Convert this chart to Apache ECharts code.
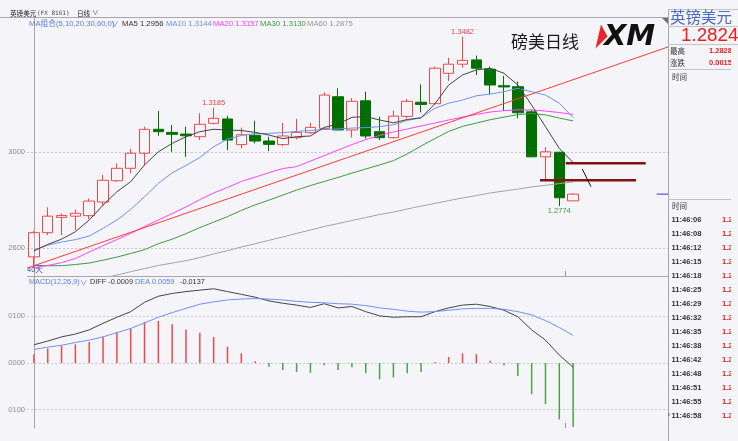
<!DOCTYPE html>
<html><head><meta charset="utf-8">
<script src="https://cdn.jsdelivr.net/npm/echarts@6/dist/echarts.min.js"></script>
<style>html,body{margin:0;padding:0;background:#f5f5f9;}#c{width:738px;height:441px;}</style>
</head><body><div id="c"></div>
<script>
// ---------------- data ----------------
const categories = ['1','2','3','4','5','6','7','8','9','10','11','12','13','14','15','16','17','18','19','20',
  '21','22','23','24','25','26','27','28','29','30','31','32','33','34','35','36','37','38','39','40',
  '41','42','43','44','45','46'];
// [open, close, low, high]
const candles = [
[1.2562,1.2663,1.2515,1.2670],[1.2663,1.2732,1.2653,1.2769],[1.2727,1.2735,1.2653,1.2744],[1.2732,1.2744,1.2673,1.2760],
[1.2734,1.2795,1.2719,1.2806],[1.2791,1.2882,1.2776,1.2904],[1.2880,1.2932,1.2876,1.2953],[1.2932,1.2995,1.2911,1.3013],
[1.2995,1.3095,1.2946,1.3106],[1.3095,1.3085,1.3068,1.3171],[1.3082,1.3074,1.3001,1.3113],[1.3075,1.3068,1.2980,1.3106],
[1.3064,1.3116,1.3050,1.3162],[1.3120,1.3141,1.3115,1.3185],[1.3138,1.3050,1.3008,1.3151],[1.3031,1.3072,1.3015,1.3102],
[1.3070,1.3046,1.3036,1.3131],[1.3046,1.3032,1.3004,1.3064],[1.3031,1.3067,1.3025,1.3122],[1.3060,1.3082,1.3053,1.3139],
[1.3081,1.3103,1.3075,1.3122],[1.3099,1.3238,1.3095,1.3250],[1.3231,1.3092,1.3092,1.3266],[1.3092,1.3212,1.3061,1.3225],
[1.3214,1.3067,1.3056,1.3252],[1.3085,1.3060,1.3050,1.3148],[1.3060,1.3150,1.3057,1.3173],[1.3149,1.3212,1.3140,1.3222],
[1.3208,1.3199,1.3166,1.3283],[1.3202,1.3350,1.3202,1.3357],[1.3329,1.3367,1.3297,1.3394],[1.3367,1.3383,1.3352,1.3482],
[1.3385,1.3350,1.3322,1.3403],[1.3346,1.3280,1.3241,1.3357],[1.3277,1.3272,1.3171,1.3318],[1.3273,1.3164,1.3141,1.3294],
[1.3168,1.2980,1.2980,1.3176],[1.2980,1.3001,1.2883,1.3020],[1.2999,1.2809,1.2774,1.3001],[1.2796,1.2824,1.2796,1.2828]
];
const ma5 = [1.2587,1.2614,1.2636,1.2667,1.2716,1.2778,1.2834,1.2876,1.2946,1.3001,1.3036,1.3064,1.3085,1.3095,1.3092,1.3090,1.3082,1.3071,1.3056,1.3064,
  1.3067,1.3103,1.3117,1.3145,1.3148,1.3134,1.3122,1.3136,1.3143,1.3201,1.3280,1.3322,1.3343,1.3350,1.3329,1.3280,1.3196,1.3106,1.3015,1.2956];
const ma10 = [1.2590,1.2611,1.2624,1.2634,1.2649,1.2681,1.2716,1.2760,1.2813,1.2869,1.2913,1.2944,1.2977,1.3022,1.3054,1.3069,1.3077,1.3078,1.3081,1.3086,
  1.3090,1.3094,1.3096,1.3100,1.3102,1.3106,1.3114,1.3132,1.3143,1.3183,1.3204,1.3217,1.3235,1.3242,1.3252,1.3266,1.3252,1.3238,1.3204,1.3144];
const ma20 = [1.2515,1.2526,1.2538,1.2555,1.2582,1.2609,1.2634,1.2660,1.2689,1.2716,1.2743,1.2771,1.2801,1.2829,1.2852,1.2877,1.2895,1.2914,1.2931,1.2939,
  1.2962,1.2985,1.3008,1.3031,1.3052,1.3069,1.3084,1.3096,1.3109,1.3121,1.3134,1.3146,1.3157,1.3167,1.3173,1.3176,1.3176,1.3171,1.3165,1.3157];
const ma30 = [1.2525,1.2525,1.2525,1.2530,1.2536,1.2548,1.2561,1.2576,1.2592,1.2617,1.2636,1.2659,1.2684,1.2707,1.2730,1.2756,1.2779,1.2799,1.2820,1.2841,
  1.2860,1.2877,1.2894,1.2912,1.2929,1.2946,1.2964,1.2992,1.3025,1.3056,1.3086,1.3107,1.3121,1.3135,1.3146,1.3156,1.3161,1.3155,1.3142,1.3130];
const ma60 = ['-','-','-','-',1.2461,1.2473,1.2486,1.2500,1.2513,1.2526,1.2536,1.2546,1.2559,1.2574,1.2588,1.2603,1.2617,1.2631,1.2645,1.2660,
  1.2674,1.2689,1.2701,1.2714,1.2726,1.2739,1.2749,1.2762,1.2774,1.2785,1.2797,1.2808,1.2818,1.2829,1.2837,1.2845,1.2854,1.2861,1.2868,1.2875];
const diff = [0.0039,0.0047,0.0056,0.0062,0.0071,0.0085,0.0098,0.0110,0.0130,0.0143,0.0149,0.0153,0.0156,0.0159,0.0153,0.0147,0.0141,0.0133,0.0128,0.0124,
  0.0119,0.0127,0.0118,0.0121,0.0110,0.0101,0.0098,0.0099,0.0099,0.0110,0.0118,0.0124,0.0126,0.0121,0.0113,0.0099,0.0071,0.0049,0.0017,-0.0009];
const dea = [0.0029,0.0034,0.0038,0.0044,0.0049,0.0056,0.0065,0.0074,0.0086,0.0098,0.0108,0.0117,0.0126,0.0131,0.0135,0.0137,0.0138,0.0137,0.0135,0.0132,
  0.0130,0.0129,0.0127,0.0126,0.0123,0.0118,0.0115,0.0111,0.0109,0.0110,0.0113,0.0116,0.0117,0.0117,0.0115,0.0110,0.0103,0.0091,0.0076,0.0059];
const macd = [0.0019,0.0031,0.0037,0.0040,0.0045,0.0056,0.0066,0.0074,0.0088,0.0090,0.0083,0.0072,0.0065,0.0056,0.0035,0.0021,0.0004,-0.0008,-0.0015,-0.0019,
  -0.0021,-0.0005,-0.0015,-0.0009,-0.0022,-0.0035,-0.0031,-0.0022,-0.0019,0.0002,0.0013,0.0021,0.0019,0.0005,-0.0005,-0.0028,-0.0067,-0.0088,-0.0121,-0.0137];
const priceTicks = [1.26, 1.30];
const macdTicks = [-0.01, 0, 0.01];
// drawn annotations: [x index, price]
const trendLine = [[-0.5, 1.2515], [45.86, 1.3439]];
const levelA = [[38.46, 1.2953], [44.25, 1.2953]];
const levelB = [[36.60, 1.2882], [43.55, 1.2882]];
const arrowLine = [[39.66, 1.2929], [40.29, 1.2855]];
const lastPriceMark = [[45.04, 1.2824], [45.86, 1.2824]];
const tickTimes = ['11:46:06','11:46:08','11:46:12','11:46:15','11:46:18','11:46:25','11:46:29','11:46:32','11:46:35','11:46:38','11:46:42','11:46:48','11:46:51','11:46:55','11:46:58'];

// -------------- chart ----------------
const PMIN = 1.2482, PMAX = 1.3560, MMIN = -0.01392, MMAX = 0.01842;
const N = categories.length;
const pad = a => a.concat(new Array(N - a.length).fill('-'));
const last = a => a[a.length - 1];
const LF = "'Liberation Sans','Noto Sans CJK SC'";
const CJK = "'Noto Sans CJK SC'";

function txt(x, y, text, o) {
  return {type:'text', x:x, y:y, z:100, silent:true,
    style:Object.assign({text:text, fill:'#333', fontSize:7.7, fontFamily:LF,
      align:'left', verticalAlign:'middle', textAlign:'left', textVerticalAlign:'middle'}, o || {})};
}
function ln(x1, y1, x2, y2, c, w) {
  return {type:'line', z:90, silent:true, shape:{x1:x1,y1:y1,x2:x2,y2:y2}, style:{stroke:c || '#a6a6ae', lineWidth:w || 1}};
}

const graphics = [
  // frame lines
  ln(0, 17.5, 668, 17.5), ln(27, 276.5, 668, 276.5), ln(668.5, 9, 668.5, 441),
  ln(668, 9.5, 738, 9.5, '#c4c4cc'), ln(668, 26.5, 738, 26.5, '#c4c4cc'), ln(668, 44.5, 738, 44.5, '#c4c4cc'),
  ln(668, 69.5, 738, 69.5, '#c4c4cc'), ln(668, 199.5, 738, 199.5, '#c4c4cc'),
  ln(565.5, 271, 565.5, 276, '#909098'), ln(565.5, 423, 565.5, 428, '#909098'),
  {type:'polygon', z:95, silent:true, shape:{points:[[662,18],[668,18],[668,24]]}, style:{fill:'#707078'}},
  // header
  txt(10, 13, '英镑美元', {fontFamily:CJK, fontSize:6.6, fill:'#222'}),
  txt(37, 13, '(FX 8161)', {fontFamily:"'DejaVu Sans Mono'", fontSize:6, fill:'#444'}),
  txt(77, 13, '日线', {fontFamily:CJK, fontSize:6.6, fill:'#222'}),
  txt(92, 13, '∨', {fontSize:6.5, fill:'#333'}),
  // MA legend
  txt(29, 24, 'MA组合(5,10,20,30,60,0)', {fill:'#5b7fe0'}),
  txt(111, 24.5, '∨', {fill:'#5b7fe0'}),
  txt(122, 24, 'MA5 ' + last(ma5).toFixed(4), {fill:'#333'}),
  txt(166, 24, 'MA10 ' + last(ma10).toFixed(4), {fill:'#6a8ef0'}),
  txt(213, 24, 'MA20 ' + last(ma20).toFixed(4), {fill:'#ff3cff'}),
  txt(260, 24, 'MA30 ' + last(ma30).toFixed(4), {fill:'#3c9a3c'}),
  txt(307, 24, 'MA60 ' + last(ma60).toFixed(4), {fill:'#999'}),
  // day count
  txt(27, 270, candles.length + '天', {fill:'#4a4ab8', fontSize:7.5}),
  // MACD legend
  txt(29, 282, 'MACD(12,26,9)', {fill:'#5b7fe0', fontSize:7.3}),
  txt(80, 282.5, '∨', {fill:'#5b7fe0', fontSize:7.3}),
  txt(90, 282, 'DIFF ' + last(diff).toFixed(4), {fill:'#333', fontSize:7.3}),
  txt(135, 282, 'DEA ' + last(dea).toFixed(4), {fill:'#5b7fe0', fontSize:7.3}),
  txt(180, 282, last(macd).toFixed(4), {fill:'#333', fontSize:7.3}),
  // title + logo
  txt(511, 42, '磅美日线', {fontFamily:CJK, fontSize:17, fill:'#1a1a1a'}),
  {type:'polygon', z:100, silent:true, shape:{points:[[601,24.5],[607.5,36.5],[595.5,48.5]]}, style:{fill:'#e8262a'}},
  txt(604, 37, 'XM', {fontSize:29, fontWeight:'bold', fontStyle:'italic', fill:'#111', fontFamily:"'DejaVu Sans'"}),
  // right panel
  txt(670, 17.5, '英镑美元', {fontFamily:CJK, fontSize:15.5, fill:'#4a6ac4'}),
  txt(681, 36, last(candles)[1].toFixed(4), {fontSize:18.8, fill:'#f01c1c'}),
  txt(670, 51, '最高', {fontFamily:CJK, fontSize:7.5, fill:'#333'}),
  txt(709, 51, last(candles)[3].toFixed(4), {fontSize:7.5, fontWeight:'bold', fill:'#f01c1c'}),
  txt(670, 63, '涨跌', {fontFamily:CJK, fontSize:7.5, fill:'#333'}),
  txt(709, 63, (last(candles)[1] - candles[candles.length - 2][1]).toFixed(4), {fontSize:7.5, fontWeight:'bold', fill:'#f01c1c'}),
  txt(672, 77, '时间', {fontFamily:CJK, fontSize:7.5, fill:'#333'}),
  txt(672, 206, '时间', {fontFamily:CJK, fontSize:7.5, fill:'#333'}),
  txt(667.5, 414.5, '›', {fontSize:8, fill:'#3050c0'})
];
tickTimes.forEach((t, i) => {
  graphics.push(txt(671.5, 220 + i * 14, t, {fontSize:7.6, fontWeight:'bold', fill:'#333'}));
  graphics.push(txt(722, 220 + i * 14, last(candles)[1].toFixed(4), {fontSize:7.6, fontWeight:'bold', fill:'#f01c1c'}));
});
// column clip at right
graphics.push({type:'rect', z:120, silent:true, shape:{x:731, y:45, width:7, height:396}, style:{fill:'#f5f5f9'}});

const lineS = (name, data, color, z) => ({name:name, type:'line', xAxisIndex:0, yAxisIndex:0, data:pad(data), symbol:'none', silent:true,
  lineStyle:{color:color, width:1}, z:z || 3});
const ovl = (data, color, width) => ({type:'line', xAxisIndex:2, yAxisIndex:2, data:data, symbol:'none', silent:true,
  lineStyle:{color:color, width:width}, z:4});

const markLabel = (idx, val, pos, color) => ({coord:[categories[idx], val], value:val.toFixed(4),
  label:{position:pos, color:color, distance:1}});

const option = {
  animation:false,
  backgroundColor:'#f5f5f9',
  textStyle:{fontFamily:'Liberation Sans'},
  grid:[
    {left:27, top:18, width:636, height:258},
    {left:27, top:277, width:636, height:151},
    {left:27, top:18, width:641, height:258},
    {left:27, top:277, width:641, height:151}
  ],
  xAxis:[
    {type:'category', gridIndex:0, data:categories, boundaryGap:true, show:false},
    {type:'category', gridIndex:1, data:categories, boundaryGap:true, show:false},
    {type:'value', gridIndex:2, min:-0.5, max:45.86, show:false},
    {type:'value', gridIndex:3, min:-0.5, max:45.86, show:false}
  ],
  yAxis:[
    {type:'value', gridIndex:0, min:PMIN, max:PMAX, show:false},
    {type:'value', gridIndex:1, min:MMIN, max:MMAX, show:false},
    {type:'value', gridIndex:2, min:PMIN, max:PMAX,
      axisLine:{show:true, lineStyle:{color:'#a6a6ae'}},
      axisTick:{show:false, customValues:priceTicks},
      axisLabel:{customValues:priceTicks, formatter:v => v.toFixed(4).slice(2), color:'#8a8a90', fontSize:7.5, margin:2},
      splitLine:{show:true, lineStyle:{color:'#c6c6cc', type:[2,2], width:1}}},
    {type:'value', gridIndex:3, min:MMIN, max:MMAX,
      axisLine:{show:true, lineStyle:{color:'#a6a6ae'}},
      axisTick:{show:false, customValues:macdTicks},
      axisLabel:{customValues:macdTicks, formatter:v => Math.abs(v).toFixed(4).slice(2), color:'#8a8a90', fontSize:7.5, margin:2},
      splitLine:{show:true, lineStyle:{color:'#c6c6cc', type:[2,2], width:1}}}
  ],
  series:[
    {type:'candlestick', xAxisIndex:0, yAxisIndex:0, data:candles, barWidth:11, silent:true, z:2,
      itemStyle:{color:'rgba(0,0,0,0)', color0:'#007000', borderColor:'#f04848', borderColor0:'#007000', borderWidth:1},
      markPoint:{symbol:'circle', symbolSize:0, silent:true,
        label:{show:true, fontSize:7.5, fontFamily:'Liberation Sans'},
        data:[markLabel(13, candles[13][3], 'top', '#f04040'),
              markLabel(31, candles[31][3], 'top', '#f04040'),
              markLabel(38, candles[38][2], 'bottom', '#3a9a3a')]}},
    lineS('MA60', ma60, '#a4a4a4'),
    lineS('MA30', ma30, '#3f9a3f'),
    lineS('MA20', ma20, '#ff44ff'),
    lineS('MA10', ma10, '#7092f0'),
    lineS('MA5', ma5, '#444'),
    ovl(trendLine, '#ff3a3a', 1),
    ovl(levelA, '#841212', 2.5),
    ovl(levelB, '#841212', 2.5),
    Object.assign(ovl(lastPriceMark, '#5a5ad0', 1.2), {
      markLine:{silent:true, symbol:['none','arrow'], symbolSize:[0,6], label:{show:false},
        lineStyle:{color:'#111', width:1, type:'solid'},
        data:[[{coord:arrowLine[0]}, {coord:arrowLine[1]}]]}}),
    {type:'bar', xAxisIndex:1, yAxisIndex:1, data:pad(macd), barWidth:1.5, silent:true,
      itemStyle:{color:p => p.value >= 0 ? '#ec4a4a' : '#46a646'}},
    {type:'line', xAxisIndex:1, yAxisIndex:1, data:pad(diff), symbol:'none', silent:true, lineStyle:{color:'#444', width:1}, z:3},
    {type:'line', xAxisIndex:1, yAxisIndex:1, data:pad(dea), symbol:'none', silent:true, lineStyle:{color:'#7092f0', width:1}, z:3}
  ],
  graphic:graphics
};
const chart = echarts.init(document.getElementById('c'));
chart.setOption(option);
</script>
</body></html>
